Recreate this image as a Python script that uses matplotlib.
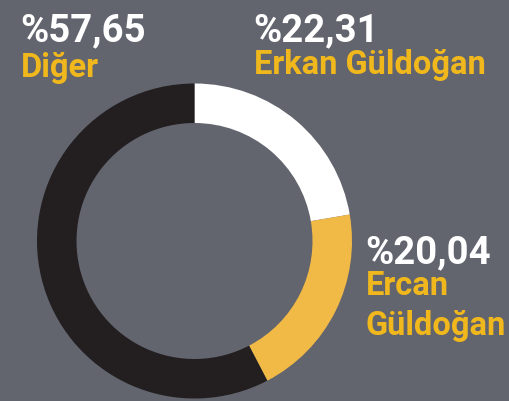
import matplotlib.pyplot as plt

# share of votes
labels = ["Erkan Güldoğan", "Ercan\nGüldoğan", "Diğer"]
values = [22.31, 20.04, 57.65]
colors = ["#ffffff", "#f1b946", "#231f20"]

bg = "#62646e"
yellow = "#f0b81c"

fig = plt.figure(figsize=(5.10, 4.01), dpi=100, facecolor=bg)
ax = fig.add_axes([0, 0, 1, 1])
ax.set_facecolor(bg)

# pixel-ish coordinates, y going up
H = 401
ax.pie(values, colors=colors, startangle=90, counterclock=False,
       center=(194.5, H - 241), radius=157.5,
       wedgeprops=dict(width=39.5, linewidth=0))
ax.set_xlim(0, 510)
ax.set_ylim(0, H)
ax.set_aspect("equal")
ax.axis("off")

def pct(v):
    return "%" + f"{v:.2f}".replace(".", ",")

# label positions (left x, baseline of number, baseline of first name line)
spots = [(253, 41, 74), (365, 263, 295), (20, 41, 77)]
for lab, v, (x, yn, yl) in zip(labels, values, spots):
    ax.text(x, H - yn, pct(v), color="white", fontsize=27.5, fontweight="bold",
            family="Roboto", ha="left", va="baseline")
    for i, line in enumerate(lab.split("\n")):
        ax.text(x + 1, H - yl - 40 * i, line, color=yellow, fontsize=23.5,
                fontweight="bold", family="Roboto", ha="left", va="baseline")

fig.savefig("out.png", dpi=100, facecolor=bg)
